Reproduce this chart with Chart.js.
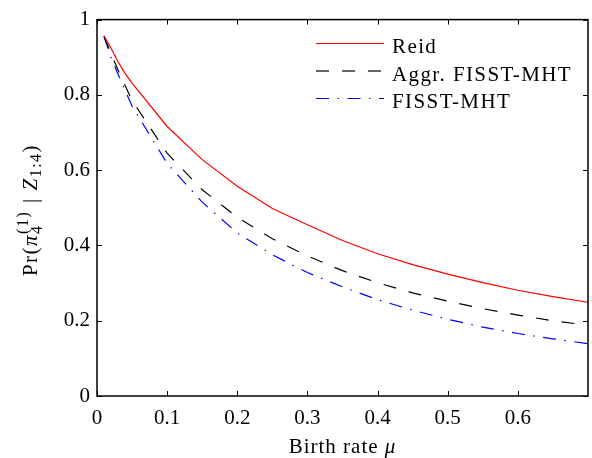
<!DOCTYPE html>
<html>
<head>
<meta charset="utf-8">
<script src="https://cdn.jsdelivr.net/npm/chart.js@4.4.1/dist/chart.umd.min.js"></script>
<style>
  html, body { margin: 0; padding: 0; background: #fff; }
  #wrap { width: 592px; height: 458px; }
</style>
</head>
<body>
<div id="wrap"><canvas id="birthChart"></canvas></div>
<script>
// data
const muValues = [0.01, 0.02, 0.03, 0.04, 0.05, 0.1, 0.15, 0.2, 0.25, 0.3, 0.35, 0.4, 0.45, 0.5, 0.55, 0.6, 0.65, 0.7];
const reidProb = [0.957, 0.924, 0.888, 0.857, 0.831, 0.716, 0.628, 0.557, 0.498, 0.455, 0.413, 0.378, 0.349, 0.324, 0.301, 0.281, 0.264, 0.249];
const aggrProb = [0.955, 0.91, 0.866, 0.825, 0.785, 0.645, 0.548, 0.475, 0.418, 0.372, 0.333, 0.301, 0.274, 0.252, 0.232, 0.215, 0.2, 0.188];
const fisstProb = [0.955, 0.9, 0.855, 0.812, 0.77, 0.618, 0.515, 0.433, 0.375, 0.328, 0.29, 0.256, 0.228, 0.204, 0.183, 0.166, 0.152, 0.139];
const seriesNames = ["Reid", "Aggr. FISST-MHT", "FISST-MHT"];
const xTicks = [0, 0.1, 0.2, 0.3, 0.4, 0.5, 0.6];
const yTicks = [0, 0.2, 0.4, 0.6, 0.8, 1];

const FONT = "Liberation Serif";

function toPoints(ys) {
  return muValues.map((x, i) => ({ x: x, y: ys[i] }));
}

// box + inward tick marks on all four sides
const frameTicks = {
  id: "frameTicks",
  afterDatasetsDraw(chart) {
    const ctx = chart.ctx;
    const a = chart.chartArea;
    const xs = chart.scales.x;
    const ys = chart.scales.y;
    const len = 5;
    ctx.save();
    ctx.strokeStyle = "#000";
    ctx.lineWidth = 1;
    ctx.beginPath();
    xTicks.forEach((v) => {
      const px = Math.round(xs.getPixelForValue(v)) + 0.5;
      ctx.moveTo(px, a.bottom);
      ctx.lineTo(px, a.bottom - len);
      ctx.moveTo(px, a.top);
      ctx.lineTo(px, a.top + len);
    });
    yTicks.forEach((v) => {
      const py = Math.round(ys.getPixelForValue(v)) + 0.5;
      ctx.moveTo(a.left, py);
      ctx.lineTo(a.left + len, py);
      ctx.moveTo(a.right, py);
      ctx.lineTo(a.right - len, py);
    });
    ctx.stroke();
    ctx.lineWidth = 1.5;
    ctx.strokeRect(a.left, a.top, a.right - a.left, a.bottom - a.top);
    ctx.restore();
  },
};

// legend inside the axes, line samples use the dataset styles
const insideLegend = {
  id: "insideLegend",
  afterDraw(chart) {
    const ctx = chart.ctx;
    const x0 = 316;
    const x1 = 384;
    const rows = [43.5, 71, 98.5];
    ctx.save();
    ctx.font = "21px '" + FONT + "'";
    ctx.letterSpacing = "1.4px";
    ctx.textBaseline = "alphabetic";
    ctx.fillStyle = "#000";
    chart.data.datasets.forEach((ds, i) => {
      const y = rows[i];
      ctx.strokeStyle = ds.borderColor;
      ctx.lineWidth = ds.borderWidth;
      ctx.setLineDash(ds.borderDash || []);
      ctx.beginPath();
      ctx.moveTo(x0, y);
      ctx.lineTo(x1, y);
      ctx.stroke();
      ctx.setLineDash([]);
      ctx.fillText(ds.label, 392, y + 9.5);
    });
    ctx.restore();
  },
};

// axis titles with italic symbols and sub/superscripts
const axisTitles = {
  id: "axisTitles",
  afterDraw(chart) {
    const ctx = chart.ctx;
    const a = chart.chartArea;
    const normal = "21px '" + FONT + "'";
    const italic = "italic 21px '" + FONT + "'";
    const small = "16px '" + FONT + "'";
    ctx.save();
    ctx.fillStyle = "#000";
    ctx.textBaseline = "alphabetic";
    ctx.letterSpacing = "1px";

    // x title
    ctx.font = normal;
    const t1 = "Birth rate ";
    const w1 = ctx.measureText(t1).width;
    ctx.font = italic;
    const w2 = ctx.measureText("\u03bc").width;
    let sx = (a.left + a.right) / 2 - (w1 + w2) / 2;
    ctx.font = normal;
    ctx.fillText(t1, sx, 453);
    ctx.font = italic;
    ctx.fillText("\u03bc", sx + w1, 453);

    // y title: Pr(pi_4^(1) | Z_1:4)
    ctx.letterSpacing = "1.5px";
    const parts = [
      { t: "Pr(", f: normal, dy: 0 },
      { t: "\u03c0", f: italic, dy: 0 },
      { stack: [{ t: "(1)", f: small, dy: -9 }, { t: "4", f: small, dy: 5 }] },
      { t: " | ", f: normal, dy: 0 },
      { t: "Z", f: italic, dy: 0 },
      { t: "1:4", f: small, dy: 4 },
      { t: ")", f: normal, dy: 0 },
    ];
    const widths = parts.map((p) => {
      if (p.stack) {
        return Math.max(...p.stack.map((s) => { ctx.font = s.f; return ctx.measureText(s.t).width; })) + 1;
      }
      ctx.font = p.f;
      return ctx.measureText(p.t).width;
    });
    const total = widths.reduce((s, w) => s + w, 0);
    ctx.translate(37, 210);
    ctx.rotate(-Math.PI / 2);
    let cx = -total / 2;
    parts.forEach((p, i) => {
      const list = p.stack ? p.stack : [p];
      list.forEach((s) => {
        ctx.font = s.f;
        ctx.fillText(s.t, cx, s.dy);
      });
      cx += widths[i];
    });
    ctx.restore();
  },
};

const ctx = document.getElementById("birthChart");

new Chart(ctx, {
  type: "line",

  data: {
    datasets: [
      {
        label: seriesNames[0],
        data: toPoints(reidProb),
        borderColor: "#ff0000",
        borderWidth: 1.2,
        pointRadius: 0,
        tension: 0,
      },
      {
        label: seriesNames[1],
        data: toPoints(aggrProb),
        borderColor: "#000000",
        borderWidth: 1.2,
        borderDash: [13, 13],
        pointRadius: 0,
        tension: 0,
      },
      {
        label: seriesNames[2],
        data: toPoints(fisstProb),
        borderColor: "#0000ff",
        borderWidth: 1.2,
        borderDash: [13, 8.5, 1.5, 8.5],
        pointRadius: 0,
        tension: 0,
      },
    ],
  },

  options: {
    responsive: true,
    maintainAspectRatio: false,
    animation: false,
    devicePixelRatio: 1,

    layout: {
      padding: { left: 0, right: 4, top: 15, bottom: 0 },
    },

    plugins: {
      legend: { display: false },
      tooltip: { enabled: false },
    },

    scales: {
      x: {
        type: "linear",
        min: 0,
        max: 0.7,
        grid: { display: false, drawTicks: false },
        border: { display: false },
        afterBuildTicks: (scale) => {
          scale.ticks = xTicks.map((v) => ({ value: v }));
        },
        afterFit: (scale) => {
          scale.height = 62;
        },
        ticks: {
          color: "#000",
          padding: 10,
          maxRotation: 0,
          font: { family: FONT, size: 21 },
          callback: (value) => String(Number(value.toFixed(1))),
        },
      },

      y: {
        min: 0,
        max: 1,
        grid: { display: false, drawTicks: false },
        border: { display: false },
        afterBuildTicks: (scale) => {
          scale.ticks = yTicks.map((v) => ({ value: v }));
        },
        afterFit: (scale) => {
          scale.width = 97;
        },
        ticks: {
          color: "#000",
          padding: 7,
          font: { family: FONT, size: 21 },
          callback: (value) => String(Number(value.toFixed(1))),
        },
      },
    },
  },

  plugins: [frameTicks, insideLegend, axisTitles],
});
</script>
</body>
</html>
